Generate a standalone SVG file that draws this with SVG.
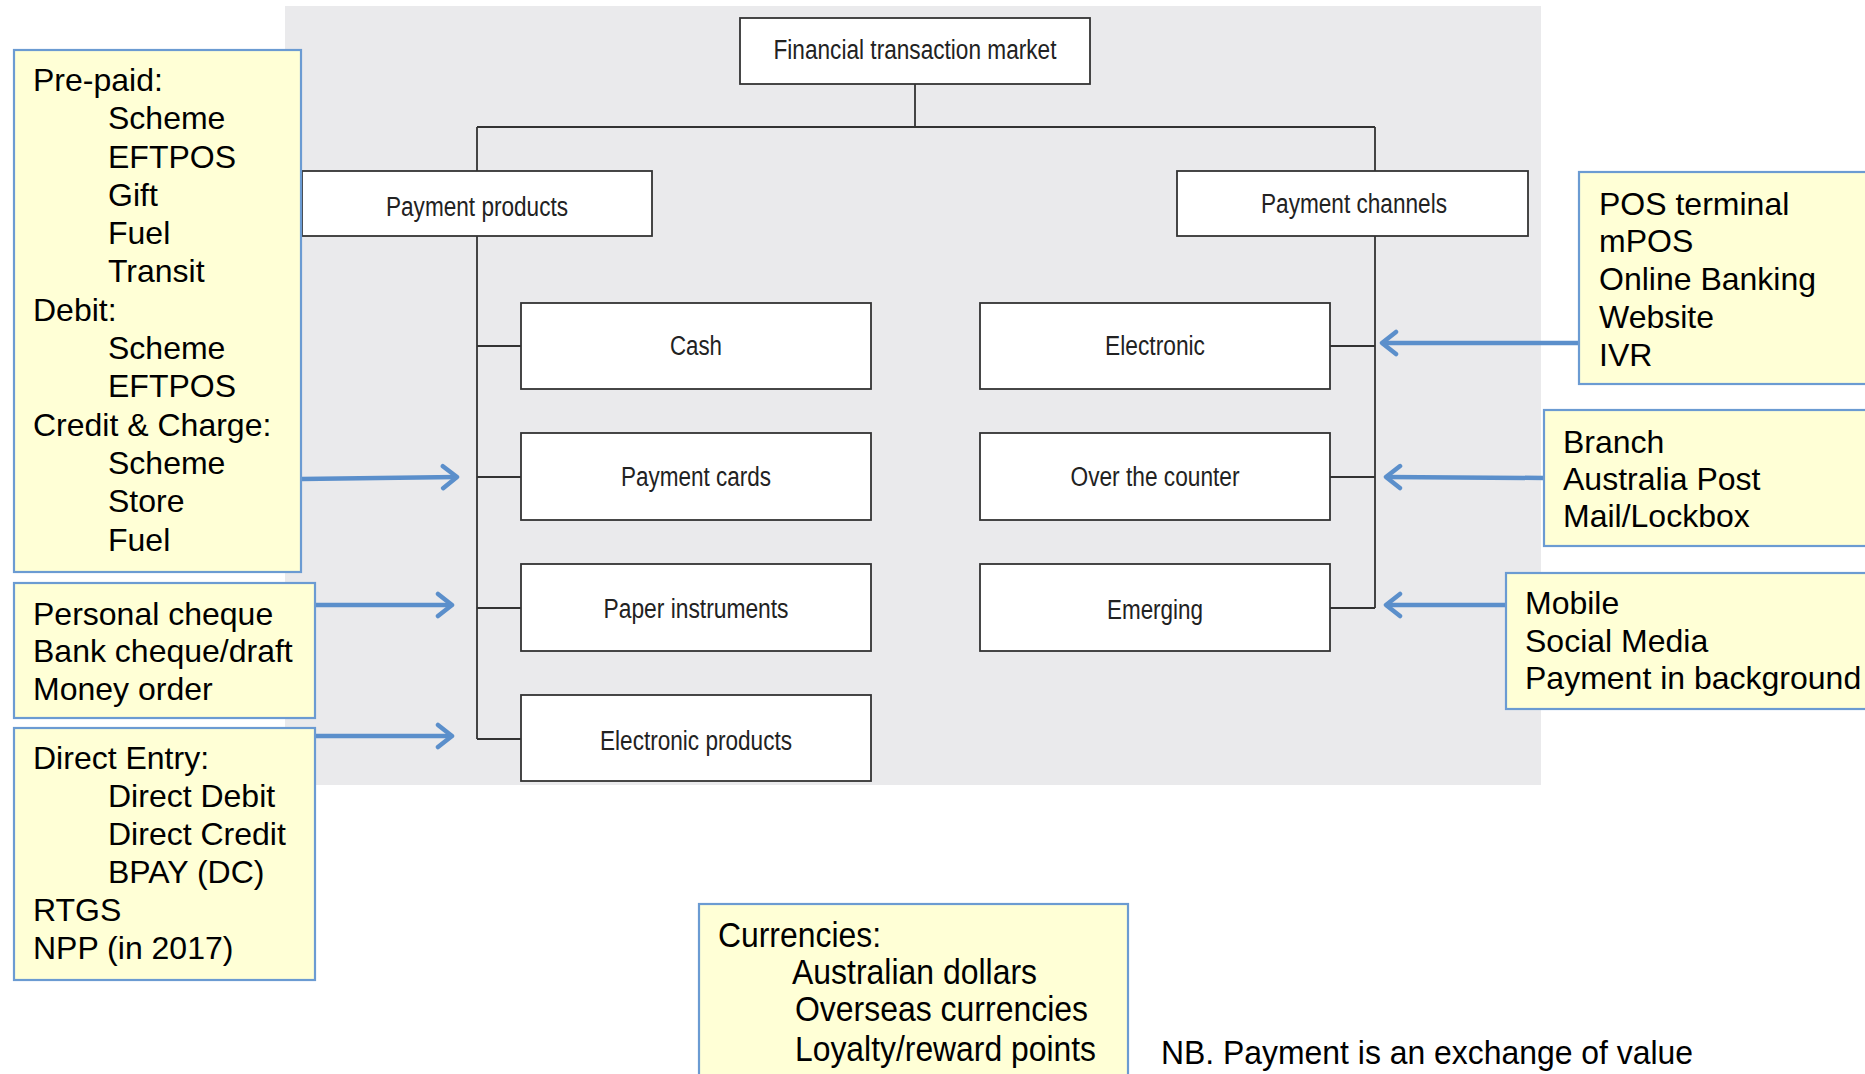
<svg xmlns="http://www.w3.org/2000/svg" width="1865" height="1074" viewBox="0 0 1865 1074">
<defs>
<style>
.node rect{fill:#ffffff;stroke:#333333;stroke-width:1.8}
.node text{font-family:"Liberation Sans",Arial,sans-serif;font-size:27px;fill:#222222;text-anchor:middle}
.note rect{fill:#ffffd6;stroke:#6b9bd2;stroke-width:2.2}
.note text{font-family:"Liberation Sans",Arial,sans-serif;font-size:32px;fill:#000000}
.note text.cond{font-size:35px}
.tree{fill:none;stroke:#333333;stroke-width:1.8}
.arrow{fill:none;stroke:#5b8fcb;stroke-width:4.5}
</style>
<marker id="ah" markerUnits="userSpaceOnUse" viewBox="0 0 20 28" markerWidth="20" markerHeight="28" refX="17" refY="14" orient="auto">
<path d="M3,3 L17,14 L3,25" fill="none" stroke="#5b8fcb" stroke-width="4.5" stroke-linecap="round" stroke-linejoin="round"/>
</marker>
</defs>
<rect x="0" y="0" width="1865" height="1074" fill="#ffffff"/>
<rect id="background" x="285" y="6" width="1256" height="779" fill="#eaeaec"/>

<g id="connectors">
<path class="tree" d="M915,83 V127 M477,127 H1375 M477,127 V171 M1375,127 V171"/>
<path class="tree" d="M477,235 V739 M477,346 H521 M477,477 H521 M477,608 H521 M477,739 H521"/>
<path class="tree" d="M1375,235 V608 M1330,346 H1375 M1330,477 H1375 M1330,608 H1375"/>
<line class="arrow" x1="301" y1="479" x2="457" y2="477" marker-end="url(#ah)"/>
<line class="arrow" x1="315" y1="605" x2="452" y2="605" marker-end="url(#ah)"/>
<line class="arrow" x1="315" y1="736" x2="452" y2="736" marker-end="url(#ah)"/>
<line class="arrow" x1="1579" y1="343" x2="1382" y2="343" marker-end="url(#ah)"/>
<line class="arrow" x1="1544" y1="478" x2="1386" y2="477" marker-end="url(#ah)"/>
<line class="arrow" x1="1506" y1="605" x2="1386" y2="605" marker-end="url(#ah)"/>
</g>

<g id="n-market" class="node"><rect x="740" y="18" width="350" height="66"/><text x="915" y="59" textLength="283" lengthAdjust="spacingAndGlyphs">Financial transaction market</text></g>
<g id="n-products" class="node"><rect x="302" y="171" width="350" height="65"/><text x="477" y="216" textLength="182" lengthAdjust="spacingAndGlyphs">Payment products</text></g>
<g id="n-channels" class="node"><rect x="1177" y="171" width="351" height="65"/><text x="1354" y="213" textLength="186" lengthAdjust="spacingAndGlyphs">Payment channels</text></g>
<g id="n-cash" class="node"><rect x="521" y="303" width="350" height="86"/><text x="696" y="355" textLength="52" lengthAdjust="spacingAndGlyphs">Cash</text></g>
<g id="n-cards" class="node"><rect x="521" y="433" width="350" height="87"/><text x="696" y="486" textLength="150" lengthAdjust="spacingAndGlyphs">Payment cards</text></g>
<g id="n-paper" class="node"><rect x="521" y="564" width="350" height="87"/><text x="696" y="618" textLength="185" lengthAdjust="spacingAndGlyphs">Paper instruments</text></g>
<g id="n-eprod" class="node"><rect x="521" y="695" width="350" height="86"/><text x="696" y="750" textLength="192" lengthAdjust="spacingAndGlyphs">Electronic products</text></g>
<g id="n-electronic" class="node"><rect x="980" y="303" width="350" height="86"/><text x="1155" y="355" textLength="100" lengthAdjust="spacingAndGlyphs">Electronic</text></g>
<g id="n-otc" class="node"><rect x="980" y="433" width="350" height="87"/><text x="1155" y="486" textLength="169" lengthAdjust="spacingAndGlyphs">Over the counter</text></g>
<g id="n-emerging" class="node"><rect x="980" y="564" width="350" height="87"/><text x="1155" y="619" textLength="96" lengthAdjust="spacingAndGlyphs">Emerging</text></g>

<g id="note-cards" class="note"><rect x="14" y="50" width="287" height="522"/>
<text x="33" y="91">Pre-paid:</text>
<text x="108" y="129">Scheme</text>
<text x="108" y="168">EFTPOS</text>
<text x="108" y="206">Gift</text>
<text x="108" y="244">Fuel</text>
<text x="108" y="282">Transit</text>
<text x="33" y="321">Debit:</text>
<text x="108" y="359">Scheme</text>
<text x="108" y="397">EFTPOS</text>
<text x="33" y="436">Credit &amp; Charge:</text>
<text x="108" y="474">Scheme</text>
<text x="108" y="512">Store</text>
<text x="108" y="551">Fuel</text>
</g>
<g id="note-paper" class="note"><rect x="14" y="583" width="301" height="135"/>
<text x="33" y="625">Personal cheque</text>
<text x="33" y="662">Bank cheque/draft</text>
<text x="33" y="700">Money order</text>
</g>
<g id="note-eprod" class="note"><rect x="14" y="728" width="301" height="252"/>
<text x="33" y="769">Direct Entry:</text>
<text x="108" y="807">Direct Debit</text>
<text x="108" y="845">Direct Credit</text>
<text x="108" y="883">BPAY (DC)</text>
<text x="33" y="921">RTGS</text>
<text x="33" y="959">NPP (in 2017)</text>
</g>
<g id="note-electronic" class="note"><rect x="1579" y="172" width="300" height="212"/>
<text x="1599" y="215">POS terminal</text>
<text x="1599" y="252">mPOS</text>
<text x="1599" y="290">Online Banking</text>
<text x="1599" y="328">Website</text>
<text x="1599" y="366">IVR</text>
</g>
<g id="note-otc" class="note"><rect x="1544" y="410" width="330" height="136"/>
<text x="1563" y="453">Branch</text>
<text x="1563" y="490">Australia Post</text>
<text x="1563" y="527">Mail/Lockbox</text>
</g>
<g id="note-emerging" class="note"><rect x="1506" y="573" width="370" height="136"/>
<text x="1525" y="614">Mobile</text>
<text x="1525" y="652">Social Media</text>
<text x="1525" y="689">Payment in background</text>
</g>
<g id="note-currencies" class="note"><rect x="699" y="904" width="429" height="185"/>
<text class="cond" x="718" y="947" textLength="163" lengthAdjust="spacingAndGlyphs">Currencies:</text>
<text class="cond" x="792" y="984" textLength="245" lengthAdjust="spacingAndGlyphs">Australian dollars</text>
<text class="cond" x="795" y="1021" textLength="293" lengthAdjust="spacingAndGlyphs">Overseas currencies</text>
<text class="cond" x="795" y="1061" textLength="301" lengthAdjust="spacingAndGlyphs">Loyalty/reward points</text>
</g>
<text id="nb" x="1161" y="1064" font-family="Liberation Sans, Arial, sans-serif" font-size="34" textLength="532" lengthAdjust="spacingAndGlyphs" fill="#000000">NB. Payment is an exchange of value</text>
</svg>
